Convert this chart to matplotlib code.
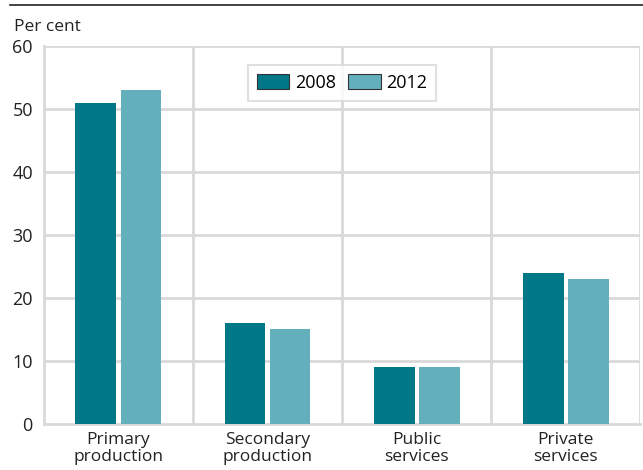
import matplotlib.pyplot as plt
import numpy as np

plt.rcParams['font.family'] = ['Open Sans', 'DejaVu Sans']

categories = ['Primary\nproduction', 'Secondary\nproduction', 'Public\nservices', 'Private\nservices']
v2008 = [51, 16, 9, 24]
v2012 = [53, 15, 9, 23]

dark = '#007888'
light = '#63afbc'
grid = '#d9d9d9'

fig = plt.figure(figsize=(6.43, 4.70), dpi=100)
ax = fig.add_axes([0.0684, 0.098, 0.927, 0.804])

x = np.arange(len(categories))
w = 0.275
ax.bar(x - 0.151, v2008, w, color=dark, label='2008', zorder=3)
ax.bar(x + 0.151, v2012, w, color=light, label='2012', zorder=3)

ax.set_xlim(-0.5, 3.5)
ax.set_ylim(0, 60)
ax.set_yticks(range(0, 61, 10))
ax.set_xticks(x)
ax.set_xticklabels(categories, fontsize=12.5, color='#222222', linespacing=1.05)
ax.tick_params(axis='y', labelsize=13, colors='#222222', length=0, pad=8)
ax.tick_params(axis='x', length=0, pad=6)

for y in range(10, 61, 10):
    ax.axhline(y, color=grid, lw=2, zorder=1)
for b in [0.5, 1.5, 2.5, 3.5]:
    ax.axvline(b, color=grid, lw=2, zorder=1)
for s in ['top', 'right']:
    ax.spines[s].set_visible(False)
ax.spines['left'].set_color(grid)
ax.spines['left'].set_linewidth(2)
ax.spines['bottom'].set_color(grid)
ax.spines['bottom'].set_linewidth(2)

leg = ax.legend(loc='upper center', bbox_to_anchor=(0.5, 0.975), ncol=2, fontsize=13,
                frameon=True, fancybox=False, edgecolor=grid, handlelength=1.8,
                handleheight=0.9, columnspacing=0.7, handletextpad=0.3, borderpad=0.5)
leg.get_frame().set_linewidth(1.5)
for h in leg.legend_handles:
    h.set_edgecolor('#333333')
    h.set_linewidth(0.8)

fig.text(0.022, 0.935, 'Per cent', fontsize=12.5, color='#222222')
fig.add_artist(plt.Line2D([0.016, 1.0], [0.989, 0.989], color='#222222', lw=1.2))

fig.savefig('out.png', dpi=100)
